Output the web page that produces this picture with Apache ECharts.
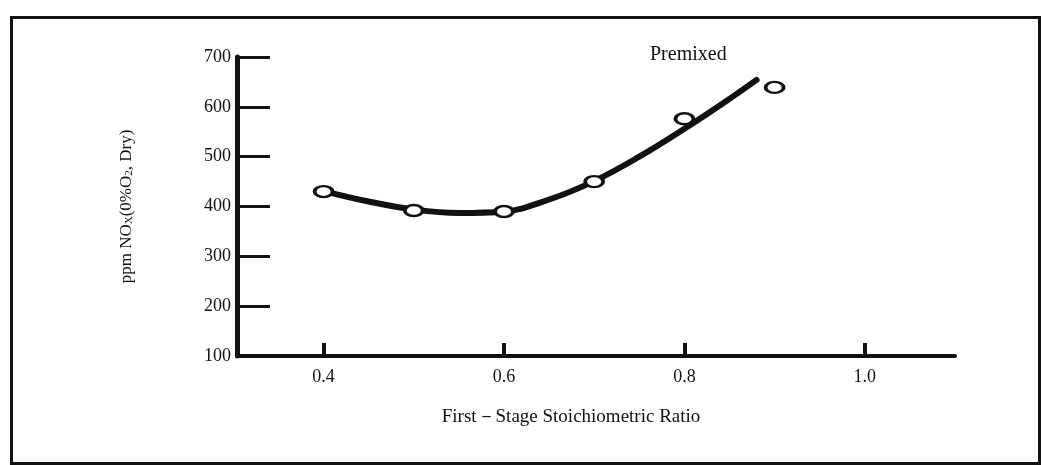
<!DOCTYPE html>
<html>
<head>
<meta charset="utf-8">
<script src="https://cdn.jsdelivr.net/npm/echarts@6/dist/echarts.min.js"></script>
<style>
  html, body { margin: 0; padding: 0; background: #fff; }
  #chart { width: 1041px; height: 465px; }
</style>
</head>
<body>
<div id="chart"></div>
<script>
// Measured NOx points (open circles) and the hand-drawn fit curve.
const ratio = [0.4, 0.5, 0.6, 0.7, 0.8, 0.9];
const noxPpm = [430, 392, 390, 450, 576, 639];

const curveRatio = [0.4, 0.45, 0.5, 0.55, 0.6, 0.65, 0.7, 0.75, 0.8, 0.85, 0.88];
const curvePpm = [431, 410, 394, 387, 390, 414, 451, 500, 556, 616, 654];

const xTicks = [0.4, 0.6, 0.8, 1.0];
const yTicks = [100, 200, 300, 400, 500, 600, 700];

const ink = '#111';
const serif = '"Liberation Serif", "DejaVu Serif", serif';

const chart = echarts.init(document.getElementById('chart'), null, { renderer: 'canvas' });

chart.setOption({
  animation: false,
  backgroundColor: '#fff',
  grid: { left: 237, right: 86, top: 57, bottom: 109, containLabel: false },
  xAxis: {
    type: 'value',
    min: 0.304,
    max: 1.1,
    name: 'First－Stage Stoichiometric Ratio',
    nameLocation: 'middle',
    nameGap: 52,
    nameTextStyle: { fontFamily: serif, fontSize: 19, color: ink, padding: [0, 50, 0, 0] },
    axisLine: { show: true, lineStyle: { color: ink, width: 4 } },
    axisTick: { show: true, inside: true, length: 13, customValues: xTicks, lineStyle: { color: ink, width: 4 } },
    axisLabel: {
      customValues: xTicks, margin: 12,
      fontFamily: serif, fontSize: 18, color: ink,
      formatter: v => v.toFixed(1)
    },
    splitLine: { show: false }
  },
  yAxis: {
    type: 'value',
    min: 100,
    max: 700,
    interval: 100,
    name: 'ppm NO{sub|X}(0%O{sub|2}, Dry)',
    nameLocation: 'middle',
    nameGap: 102,
    nameTextStyle: {
      fontFamily: serif, fontSize: 17, color: ink,
      rich: { sub: { fontFamily: serif, fontSize: 11, color: ink, verticalAlign: 'bottom', padding: [6, 0, 0, 0] } }
    },
    axisLine: { show: true, lineStyle: { color: ink, width: 5 } },
    axisTick: { show: true, inside: true, length: 33, customValues: yTicks, lineStyle: { color: ink, width: 3 } },
    axisLabel: { customValues: yTicks, margin: 6, fontFamily: serif, fontSize: 18, color: ink },
    splitLine: { show: false }
  },
  graphic: [
    {
      type: 'rect',
      left: 9, top: 15,
      shape: { width: 1028, height: 446 },
      style: { fill: 'none', stroke: ink, lineWidth: 3 },
      silent: true
    },
    {
      type: 'text',
      left: 650, top: 45,
      style: { text: 'Premixed', fontFamily: serif, fontSize: 20, fill: ink }
    }
  ],
  series: [
    {
      type: 'line',
      data: curveRatio.map((x, i) => [x, curvePpm[i]]),
      smooth: 0.4,
      showSymbol: false,
      lineStyle: { color: ink, width: 6, cap: 'round' },
      z: 2
    },
    {
      type: 'scatter',
      data: ratio.map((x, i) => [x, noxPpm[i]]),
      symbol: 'circle',
      symbolSize: [18, 11],
      itemStyle: { color: '#fff', borderColor: ink, borderWidth: 3, opacity: 1 },
      z: 5
    }
  ]
});

window.addEventListener('resize', () => chart.resize());
</script>
</body>
</html>
